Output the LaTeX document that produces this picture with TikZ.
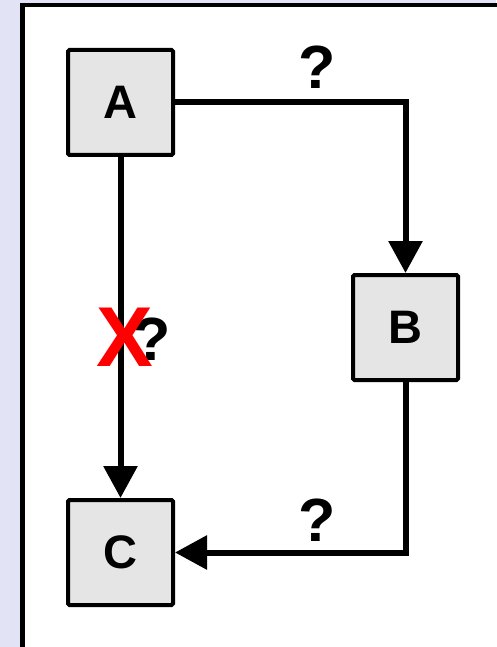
\documentclass[tikz,border=0pt]{standalone}
\usepackage{fontspec}
\setmainfont{Liberation Sans}
\usetikzlibrary{arrows.meta}
\definecolor{pagebg}{RGB}{226,228,246}
\definecolor{boxfill}{RGB}{229,229,229}
\definecolor{crossred}{RGB}{255,0,0}
\begin{document}
\begin{tikzpicture}[x=1pt,y=-1pt,
  blockbox/.style={draw=black, line width=4pt, fill=boxfill, minimum size=105pt,
    inner sep=0pt, rounded corners=1.5pt, font=\fontsize{47}{47}\selectfont\bfseries},
  flow/.style={line width=6pt, -{Triangle[length=32pt,width=33pt]}},
  qmark/.style={inner sep=0pt, font=\fontsize{61}{61}\selectfont\bfseries},
  crossmark/.style={inner sep=0pt, text=crossred, font=\fontsize{85}{85}\selectfont\bfseries}]
  % page background and frame
  \fill[pagebg] (0,0) rectangle (496,647);
  \useasboundingbox (0,0) rectangle (496,647);
  \fill[white] (22.5,5) rectangle (500,650);
  \draw[line width=4.5pt] (22.5,660) -- (22.5,5) -- (510,5);
  % blocks
  \node[blockbox] (A) at (120.5,102.5) {A};
  \node[blockbox] (B) at (405.5,327.5) {B};
  \node[blockbox] (C) at (120.5,552.5) {C};
  % connectors
  \draw[flow] (A.east) -| (B.north);
  \draw[flow] (B.south) |- (C.east);
  \draw[flow] (A.south) -- (C.north);
  % labels
  \node[qmark] (q1) at (317,67.5) {?};
  \node[qmark] (q2) at (317,520) {?};
  \node[qmark] (q3) at (152,339.5) {?};
  \node[crossmark] (x) at (125,337) {X};
\end{tikzpicture}
\end{document}
